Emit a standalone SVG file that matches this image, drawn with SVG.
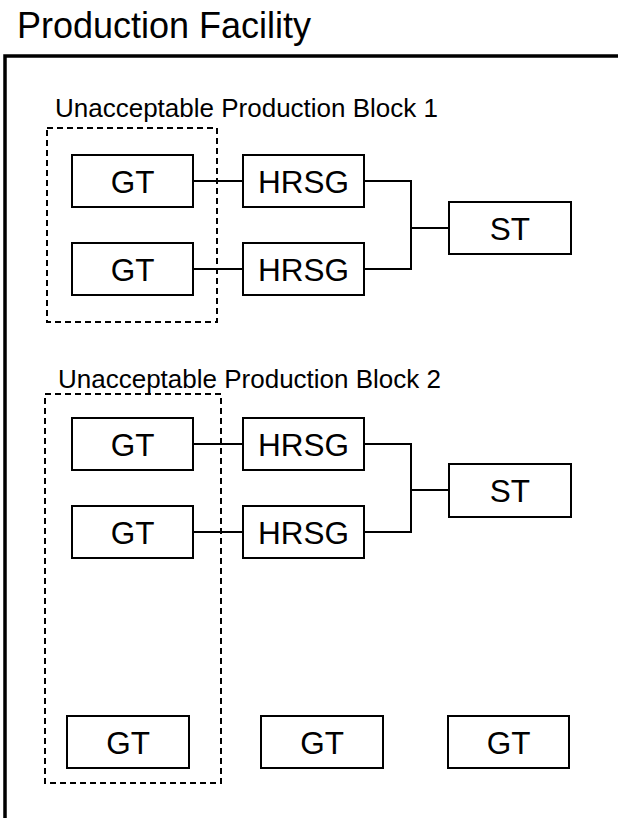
<svg xmlns="http://www.w3.org/2000/svg" width="618" height="818" viewBox="0 0 618 818">
<style>
.box{fill:#fff;stroke:#000;stroke-width:2}
.dash{fill:none;stroke:#000;stroke-width:2;stroke-dasharray:6 4}
.conn{fill:none;stroke:#000;stroke-width:2}
.t{font-family:"Liberation Sans",Arial,sans-serif;font-size:31.5px;text-anchor:middle;fill:#000}
.lbl{font-family:"Liberation Sans",Arial,sans-serif;font-size:26px;fill:#000}
.title{font-family:"Liberation Sans",Arial,sans-serif;font-size:36px;fill:#000}
</style>
<rect width="618" height="818" fill="#fff"/>
<g id="facility">
<text class="title" x="17" y="38">Production Facility</text>
<path d="M5,818 V56 H618" fill="none" stroke="#000" stroke-width="3.5"/>
</g>
<g id="block1">
<rect class="dash" x="47" y="128" width="170" height="194"/>
<text class="lbl" x="55" y="117">Unacceptable Production Block 1</text>
</g>
<g id="block2">
<rect class="dash" x="45" y="394" width="176" height="389"/>
<text class="lbl" x="58" y="388">Unacceptable Production Block 2</text>
</g>
<g id="connectors">
<path class="conn" d="M193,181 H243 M193,269 H243 M364,181 H411 V269 H364 M411,228 H449"/>
<path class="conn" d="M193,444 H243 M193,532 H243 M364,444 H411 V532 H364 M411,490 H449"/>
</g>
<g id="gt1"><rect class="box" x="72" y="155" width="121" height="52"/><text class="t" x="132.5" y="192.5">GT</text></g>
<g id="gt2"><rect class="box" x="72" y="243" width="121" height="52"/><text class="t" x="132.5" y="280.5">GT</text></g>
<g id="hrsg1"><rect class="box" x="243" y="155" width="121" height="52"/><text class="t" x="303.5" y="192.5">HRSG</text></g>
<g id="hrsg2"><rect class="box" x="243" y="243" width="121" height="52"/><text class="t" x="303.5" y="280.5">HRSG</text></g>
<g id="st1"><rect class="box" x="449" y="202" width="122" height="52"/><text class="t" x="510" y="239.5">ST</text></g>
<g id="gt3"><rect class="box" x="72" y="418" width="121" height="52"/><text class="t" x="132.5" y="455.5">GT</text></g>
<g id="gt4"><rect class="box" x="72" y="506" width="121" height="52"/><text class="t" x="132.5" y="543.5">GT</text></g>
<g id="hrsg3"><rect class="box" x="243" y="418" width="121" height="52"/><text class="t" x="303.5" y="455.5">HRSG</text></g>
<g id="hrsg4"><rect class="box" x="243" y="506" width="121" height="52"/><text class="t" x="303.5" y="543.5">HRSG</text></g>
<g id="st2"><rect class="box" x="449" y="464" width="122" height="53"/><text class="t" x="510" y="501.5">ST</text></g>
<g id="gt5"><rect class="box" x="67" y="716" width="122" height="52"/><text class="t" x="128" y="753.5">GT</text></g>
<g id="gt6"><rect class="box" x="261" y="716" width="122" height="52"/><text class="t" x="322" y="753.5">GT</text></g>
<g id="gt7"><rect class="box" x="448" y="716" width="121" height="52"/><text class="t" x="508.5" y="753.5">GT</text></g>
</svg>
